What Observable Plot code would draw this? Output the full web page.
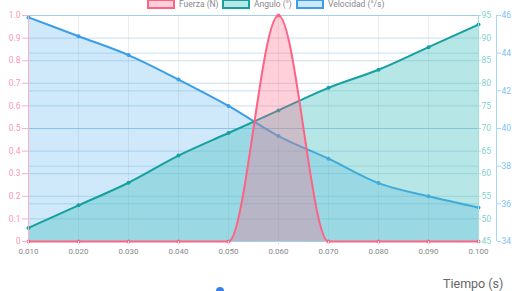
<!DOCTYPE html>
<html><head><meta charset="utf-8">
<script src="https://cdn.jsdelivr.net/npm/d3@7"></script>
<script src="https://cdn.jsdelivr.net/npm/@observablehq/plot@0.6"></script>
<style>
html,body{margin:0;padding:0;background:#fff;overflow:hidden;}
#wrap{position:relative;width:515px;height:291px;font-family:Roboto,sans-serif;}
.leg{position:absolute;top:-1px;display:flex;align-items:center;font-size:8.5px;color:#888;}
.box{width:24px;height:6px;border-width:2px;border-style:solid;margin-right:4px;}
#xlabel{position:absolute;left:443px;top:276px;font-size:12.5px;color:#666;}
#knob{position:absolute;left:216px;top:287px;width:8px;height:8px;border-radius:50%;background:#3b82e8;}
</style></head>
<body><div id="wrap"></div>
<script>
const tiempo = [0.01, 0.02, 0.03, 0.04, 0.05, 0.06, 0.07, 0.08, 0.09, 0.10];
const fuerza = [0, 0, 0, 0, 0, 1, 0, 0, 0, 0];
const angulo = [48, 53, 58, 64, 69, 74, 79, 83, 88, 93];
const velocidad = [45.9, 44.9, 43.9, 42.6, 41.2, 39.6, 38.4, 37.1, 36.4, 35.8];
const seriesNames = ["Fuerza (N)", "Ángulo (°)", "Velocidad (°/s)"];
const leftTicks = [0, 0.1, 0.2, 0.3, 0.4, 0.5, 0.6, 0.7, 0.8, 0.9, 1.0];
const anguloTicks = [45, 50, 55, 60, 65, 70, 75, 80, 85, 90, 95];
const velTicks = [34, 36, 38, 40, 42, 44, 46];
const xLabel = "Tiempo (s)";

const angDomain = [45, 95], velDomain = [34, 46];
const nA = v => (v - angDomain[0]) / (angDomain[1] - angDomain[0]);
const nV = v => (v - velDomain[0]) / (velDomain[1] - velDomain[0]);

const cPink = "#ff6384", cTeal = "#17a0a0", cBlue = "#3a9de6";
const data = tiempo.map((t, i) => ({t, f: fuerza[i], a: nA(angulo[i]), v: nV(velocidad[i])}));

const chart = Plot.plot({
  width: 515, height: 291,
  marginLeft: 28, marginRight: 37, marginTop: 15, marginBottom: 50,
  style: {fontFamily: "Roboto, sans-serif", background: "transparent", overflow: "visible"},
  x: {domain: [0.01, 0.1], axis: null, label: null},
  y: {domain: [0, 1], axis: null, label: null},
  marks: [
    Plot.gridX(tiempo, {stroke: "#000", strokeOpacity: 0.07}),
    Plot.gridY(velTicks.map(nV), {stroke: "#7cc0f0", strokeOpacity: 0.45}),
    Plot.gridY(leftTicks, {stroke: "#6aa6cf", strokeOpacity: 0.35}),
    Plot.areaY(data, {x: "t", y: "v", fill: "#36a2eb", fillOpacity: 0.24, curve: "monotone-x"}),
    Plot.line(data, {x: "t", y: "v", stroke: cBlue, strokeWidth: 2, curve: "monotone-x"}),
    Plot.dot(data, {x: "t", y: "v", r: 2, fill: cBlue}),
    Plot.areaY(data, {x: "t", y: "a", fill: "#4bc0c0", fillOpacity: 0.4, curve: "monotone-x"}),
    Plot.line(data, {x: "t", y: "a", stroke: cTeal, strokeWidth: 2, curve: "monotone-x"}),
    Plot.dot(data, {x: "t", y: "a", r: 2, fill: cTeal}),
    Plot.areaY(data, {x: "t", y: "f", fill: cPink, fillOpacity: 0.3, curve: "monotone-x"}),
    Plot.line(data, {x: "t", y: "f", stroke: cPink, strokeWidth: 2, curve: "monotone-x"}),
    Plot.dot(data, {x: "t", y: "f", r: 2, fill: cPink}),
    // axis lines
    Plot.ruleX([0.01], {stroke: "#f7b3c2"}),
    Plot.ruleX([0.1], {stroke: "#a6dede"}),
    Plot.ruleX([0.1], {stroke: "#a8d6f5", dx: 18}),
    Plot.axisX(tiempo, {anchor: "bottom", label: null, tickFormat: d => d.toFixed(3), tickSize: 4, tickPadding: 3, fontSize: 8, stroke: "#e6e6e6", fill: "#888"}),
    Plot.axisY(leftTicks, {anchor: "left", label: null, tickFormat: d => d === 0 ? "0" : d.toFixed(1), tickSize: 6, tickPadding: 2, fontSize: 8.5, stroke: "#f7b3c2", fill: "#f79ab0"}),
    Plot.axisY(anguloTicks.map(nA), {anchor: "right", label: null, tickFormat: (d, i) => anguloTicks[i], tickSize: 2, tickPadding: 1, fontSize: 8.5, stroke: "#a6dede", fill: "#7fd0d0"}),
    Plot.axisY(velTicks.map(nV), {anchor: "right", label: null, dx: 18, tickFormat: (d, i) => velTicks[i], tickSize: 4, tickPadding: 1, fontSize: 8.5, stroke: "#a8d6f5", fill: "#7cbff0"})
  ]
});
const wrap = document.getElementById("wrap");
wrap.appendChild(chart);
chart.style.position = "absolute"; chart.style.left = "0"; chart.style.top = "0";

const legendDefs = [
  {left: 147, stroke: cPink, fill: "rgba(255,99,132,0.3)"},
  {left: 222, stroke: cTeal, fill: "rgba(75,192,192,0.4)"},
  {left: 296, stroke: cBlue, fill: "rgba(54,162,235,0.25)"}
];
legendDefs.forEach((d, i) => {
  const el = document.createElement("div");
  el.className = "leg"; el.style.left = d.left + "px";
  el.innerHTML = `<div class="box" style="border-color:${d.stroke};background:${d.fill}"></div><span>${seriesNames[i]}</span>`;
  wrap.appendChild(el);
});
const xl = document.createElement("div"); xl.id = "xlabel"; xl.textContent = xLabel; wrap.appendChild(xl);
const kn = document.createElement("div"); kn.id = "knob"; wrap.appendChild(kn);
</script>
</body></html>
